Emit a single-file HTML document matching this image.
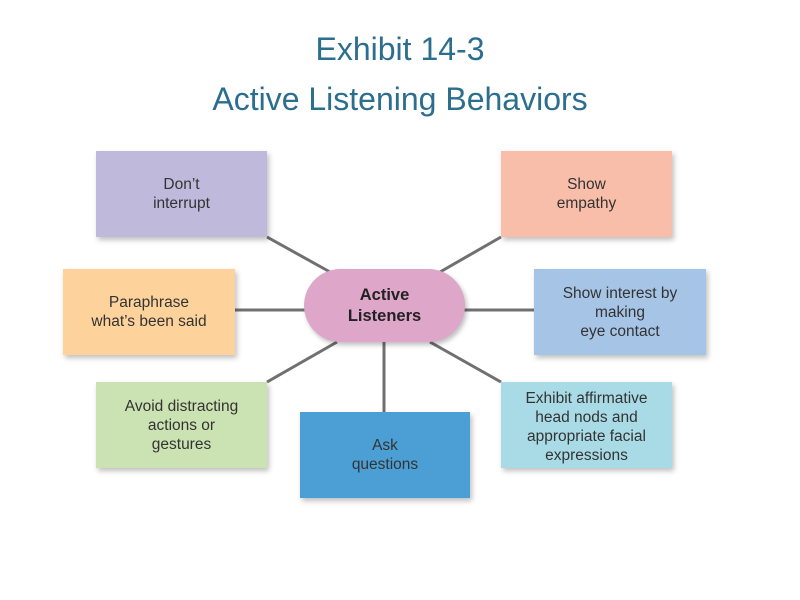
<!DOCTYPE html>
<html><head><meta charset="utf-8"><style>
body{margin:0;width:800px;height:600px;background:#fff;position:relative;overflow:hidden;font-family:"Liberation Sans",Arial,sans-serif}
.t{position:absolute;left:0;width:800px;text-align:center;color:#2b6e8e;font-size:32px}
.b{position:absolute;display:flex;align-items:center;justify-content:center;text-align:center;color:#333;font-size:15.5px;line-height:19px;box-shadow:2px 3px 5px rgba(0,0,0,.25)}
svg{position:absolute;left:0;top:0}
</style></head><body>
<div class="t" style="top:31px">Exhibit 14-3</div>
<div class="t" style="top:81px">Active Listening Behaviors</div>
<svg width="800" height="600"><g stroke="#707070" stroke-width="3">
<line x1="267" y1="237" x2="330" y2="272"/>
<line x1="501" y1="237" x2="440" y2="272"/>
<line x1="235" y1="310" x2="305" y2="310"/>
<line x1="464" y1="310" x2="534" y2="310"/>
<line x1="267" y1="382" x2="337" y2="342"/>
<line x1="384" y1="340" x2="384" y2="412"/>
<line x1="430" y1="342" x2="501" y2="382"/>
</g></svg>
<div class="b" style="left:96px;top:151px;width:171px;height:86px;background:#bfb9db">Don’t<br>interrupt</div>
<div class="b" style="left:501px;top:151px;width:171px;height:86px;background:#f9bea9">Show<br>empathy</div>
<div class="b" style="left:63px;top:269px;width:172px;height:86px;background:#fdd39b">Paraphrase<br>what’s been said</div>
<div class="b" style="left:534px;top:269px;width:172px;height:86px;background:#a6c5e6">Show interest by<br>making<br>eye contact</div>
<div class="b" style="left:96px;top:382px;width:171px;height:86px;background:#cbe2b2">Avoid distracting<br>actions or<br>gestures</div>
<div class="b" style="left:300px;top:412px;width:170px;height:86px;background:#4b9fd5">Ask<br>questions</div>
<div class="b" style="left:501px;top:382px;width:171px;height:86px;background:#a8dbe6;padding-top:4px;box-sizing:border-box">Exhibit affirmative<br>head nods and<br>appropriate facial<br>expressions</div>
<div class="b" style="left:304px;top:269px;width:161px;height:73px;background:#dea6c8;border-radius:37px;font-weight:bold;font-size:16.5px;line-height:21px;color:#222">Active<br>Listeners</div>
</body></html>
